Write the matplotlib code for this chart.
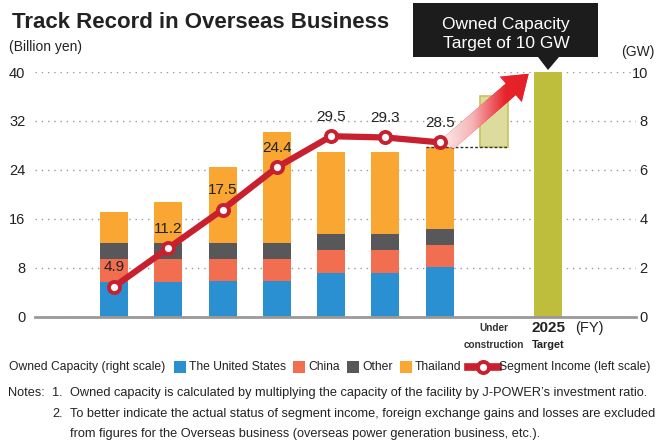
import numpy as np
import matplotlib.pyplot as plt
from matplotlib.patches import Rectangle, Polygon, FancyArrowPatch
from matplotlib.lines import Line2D
from matplotlib.colors import LinearSegmentedColormap

# data (owned capacity in GW, right scale; segment income in billion yen, left scale)
years = ['2012', '2013', '2014', '2015', '2016', '2017', '2018']
us = [1.42, 1.42, 1.47, 1.47, 1.79, 1.79, 2.04]
china = [0.95, 0.95, 0.90, 0.90, 0.95, 0.95, 0.91]
other = [0.66, 0.66, 0.66, 0.66, 0.66, 0.66, 0.65]
thailand = [1.23, 1.64, 3.08, 4.52, 3.33, 3.33, 3.33]
income = [4.9, 11.2, 17.5, 24.4, 29.5, 29.3, 28.5]
under_construction = 2.07
target_2025 = 10

c_us = '#2B90D2'
c_china = '#F26E50'
c_other = '#58585A'
c_thai = '#F9A632'
c_line = '#C8202F'
c_target = '#BEBD3C'

plt.rcParams['font.family'] = ['Liberation Sans', 'DejaVu Sans']
plt.rcParams['text.color'] = '#222222'

fig = plt.figure(figsize=(6.6, 4.41), dpi=100)
ax2 = fig.add_axes([35/660, 1-316.7/441, 601/660, 244.7/441])
ax = ax2.twinx()
ax.set_zorder(ax2.get_zorder() + 1)
ax.patch.set_visible(False)

x = np.arange(len(years))
w = 0.516

# stacked capacity bars
b1 = np.array(us)
b2 = b1 + np.array(china)
b3 = b2 + np.array(other)
ax2.bar(x, us, w, color=c_us, zorder=2)
ax2.bar(x, china, w, bottom=b1, color=c_china, zorder=2)
ax2.bar(x, other, w, bottom=b2, color=c_other, zorder=2)
ax2.bar(x, thailand, w, bottom=b3, color=c_thai, zorder=2)
top2018 = b3[-1] + thailand[-1]

# under construction + 2025 target
ax2.bar(7, under_construction, w, bottom=top2018, color='#DDDC9E', edgecolor='#C6C55C', lw=1.2, zorder=2)
ax2.plot([6 - w/2, 7 + w/2], [top2018, top2018], color='#333333', lw=1, ls=(0, (2, 1.5)), zorder=3)
ax2.bar(8, target_2025, w, color=c_target, zorder=2)

# gradient arrow
arrow = FancyArrowPatch((6.12, 7.0), (7.68, 10.0), transform=ax2.transData,
                        arrowstyle='simple,head_length=1.7,head_width=2.4,tail_width=1.1',
                        mutation_scale=10, fc='#E8242B', ec='none', zorder=3)
ax2.add_patch(arrow)
grad = np.linspace(0, 1, 256).reshape(1, -1)
cmap = LinearSegmentedColormap.from_list('g', ['#FDEEEE', '#F6B3B5', '#E8242B', '#E31E26'])
im = ax2.imshow(grad, extent=(6.0, 7.8, 6.9, 10.2), cmap=cmap, aspect='auto', zorder=4)
im.set_clip_path(arrow)

# segment income line
ax.plot(x, income, color=c_line, lw=4.5, marker='o', ms=8, mfc='white', mec=c_line, mew=2.8,
        solid_capstyle='round', zorder=5)
for xi, v in zip(x, income):
    ax.annotate(f'{v}', (xi, v), xytext=(0, 14), textcoords='offset points',
                ha='center', va='center', fontsize=11, color='#222222')

# axes styling
ax2.set_xlim(-1.456, 9.62)
ax2.set_ylim(0, 10)
ax.set_ylim(0, 40)
ax2.yaxis.tick_right()
ax.yaxis.tick_left()
ax2.set_yticks([0, 2, 4, 6, 8, 10])
ax.set_yticks([0, 8, 16, 24, 32, 40])
ax2.grid(axis='y', color='#999999', lw=1, ls=(0, (1, 3.5)), zorder=0)
ax2.set_axisbelow(True)
for a in (ax, ax2):
    for s in a.spines.values():
        s.set_visible(False)
ax2.axhline(0, color='#999999', lw=2, zorder=6, clip_on=False)
ax.tick_params(axis='y', length=0, pad=7, labelsize=10.5, labelcolor='#222222')
ax2.tick_params(axis='y', length=0, pad=8.5, labelsize=10.5, labelcolor='#222222')
for t in ax2.get_yticklabels():
    t.set_ha('right')
ax2.set_xticks(x)
ax2.set_xticklabels(years, fontweight='bold', fontsize=10.5)
ax2.tick_params(axis='x', length=0, pad=4)
ax.set_xticks([])

tr = ax2.get_xaxis_transform()
ax2.text(7, -0.045, 'Under', transform=tr, ha='center', va='center', fontsize=7.2, fontweight='bold', color='#333333')
ax2.text(7, -0.115, 'construction', transform=tr, ha='center', va='center', fontsize=7.2, fontweight='bold', color='#333333')
ax2.text(8, -0.045, '2025', transform=tr, ha='center', va='center', fontsize=11, fontweight='bold')
ax2.text(8, -0.115, 'Target', transform=tr, ha='center', va='center', fontsize=7.8, fontweight='bold')
ax2.text(8.5, -0.045, '(FY)', transform=tr, ha='left', va='center', fontsize=10.5)

# title and units
fig.text(12/660, 1-22/441, 'Track Record in Overseas Business', fontsize=16, fontweight='bold', va='center')
fig.text(9/660, 1-47/441, '(Billion yen)', fontsize=10, va='center')
fig.text(655/660, 1-52/441, '(GW)', fontsize=10, va='center', ha='right')

# callout
fig.add_artist(Rectangle((413/660, 1-57/441), 185/660, 54/441, transform=fig.transFigure, fc='#1C1C1C', ec='none'))
fig.add_artist(Polygon([(538/660, 1-57/441), (559/660, 1-57/441), (548/660, 1-70/441)], closed=True,
                       transform=fig.transFigure, fc='#1C1C1C', ec='none'))
fig.text(506/660, 1-34/441, 'Owned Capacity\nTarget of 10 GW', color='white', fontsize=12.5,
         ha='center', va='center', linespacing=1.3)

# legend, laid out left to right
ly = 1 - 367/441
fs = 8.7
renderer = fig.canvas.get_renderer()
t0 = fig.text(9/660, ly, 'Owned Capacity (right scale)', fontsize=fs, va='center')
px = t0.get_window_extent(renderer).x1 + 9
items = [(c_us, 'The United States'), (c_china, 'China'), (c_other, 'Other'), (c_thai, 'Thailand')]
for col, lab in items:
    fig.add_artist(Rectangle((px/660, ly - 6/441), 12/660, 12/441, transform=fig.transFigure, fc=col, ec='none'))
    t = fig.text((px + 15)/660, ly, lab, fontsize=fs, va='center')
    px = t.get_window_extent(renderer).x1 + 7
fig.add_artist(Line2D([px/660, (px + 30)/660], [ly, ly], transform=fig.transFigure, color=c_line, lw=5.5))
fig.add_artist(Line2D([(px + 15)/660], [ly], transform=fig.transFigure, marker='o', ms=8, mfc='white', mec=c_line, mew=2.8))
fig.text((px + 31)/660, ly, 'Segment Income (left scale)', fontsize=fs, va='center')

# notes
fn = 9.2
fig.text(8/660, 1-393/441, 'Notes:', fontsize=fn, va='center')
fig.text(52/660, 1-393/441, '1.', fontsize=fn, va='center')
fig.text(70/660, 1-393/441, "Owned capacity is calculated by multiplying the capacity of the facility by J-POWER\u2019s investment ratio.",
         fontsize=fn, va='center')
fig.text(52/660, 1-414/441, '2.', fontsize=fn, va='center')
fig.text(70/660, 1-414/441, 'To better indicate the actual status of segment income, foreign exchange gains and losses are excluded',
         fontsize=fn, va='center')
fig.text(70/660, 1-434/441, 'from figures for the Overseas business (overseas power generation business, etc.).',
         fontsize=fn, va='center')

fig.savefig('out.png', dpi=100)
